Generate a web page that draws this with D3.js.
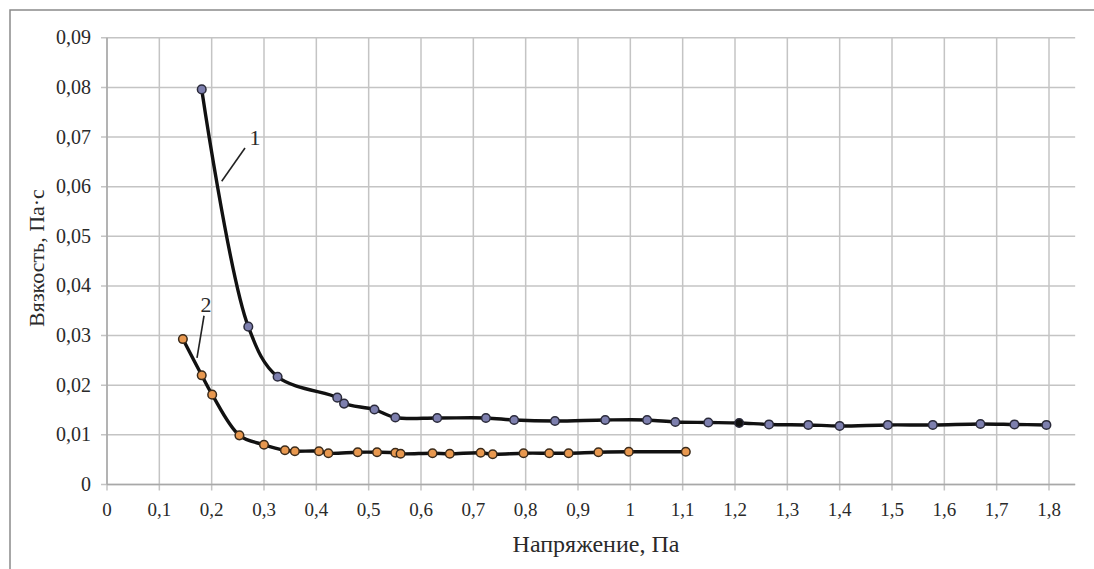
<!DOCTYPE html>
<html><head><meta charset="utf-8">
<script src="https://cdn.jsdelivr.net/npm/d3@7"></script>
<style>html,body{margin:0;padding:0;background:#fff;}svg{display:block;}</style>
</head><body>
<svg id="c" width="1094" height="569"></svg>
<script>
// Series 1
const s1x = [0.181,0.270,0.326,0.440,0.453,0.511,0.551,0.631,0.724,0.778,0.856,0.952,1.032,1.086,1.149,1.208,1.265,1.340,1.400,1.492,1.578,1.669,1.734,1.795];
const s1y = [0.0796,0.0318,0.0217,0.0175,0.0163,0.0151,0.0135,0.0134,0.0134,0.0130,0.0128,0.0130,0.0130,0.0126,0.0125,0.0124,0.0121,0.0120,0.0118,0.0120,0.0120,0.0122,0.0121,0.0120];
// Series 2
const s2x = [0.145,0.181,0.201,0.253,0.300,0.340,0.359,0.405,0.423,0.479,0.516,0.551,0.561,0.622,0.655,0.714,0.737,0.796,0.845,0.882,0.939,0.997,1.106];
const s2y = [0.0293,0.0220,0.0181,0.0099,0.0080,0.0069,0.0067,0.0067,0.0063,0.0065,0.0065,0.0064,0.0062,0.0063,0.0062,0.0064,0.0061,0.0063,0.0063,0.0063,0.0065,0.0066,0.0066];
const highlightX = [1.208];
const xTicks = d3.range(0, 19).map(i => i / 10);
const yTicks = d3.range(0, 10).map(i => i / 100);
const xTitle = "Напряжение, Па";
const yTitle = "Вязкость, Па·с";
const labels = [{t:"1", x:0.2828, y:0.0684, lx1:0.2637, ly1:0.0678, lx2:0.2192, ly2:0.0611},
                {t:"2", x:0.1892, y:0.0348, lx1:0.1854, ly1:0.0340, lx2:0.1720, ly2:0.0255}];

const svg = d3.select("#c");
const serif = "'Liberation Serif','DejaVu Serif',serif";
const x = d3.scaleLinear().domain([0, 1.8]).range([107, 1049]);
const y = d3.scaleLinear().domain([0, 0.09]).range([484.5, 37.8]);
const xMax = 1.85;
const fmt = v => String(+v.toFixed(2)).replace(".", ",");

// frame
svg.append("path").attr("d","M10,569 L10,10 L1094,10").attr("fill","none").attr("stroke","#8a8a8a").attr("stroke-width",1.5);

// grid
const g = svg.append("g");
g.selectAll(".hg").data(yTicks).enter().append("line")
  .attr("x1", x(0)-6).attr("x2", x(xMax)).attr("y1", d=>y(d)).attr("y2", d=>y(d))
  .attr("stroke","#c4c4c4").attr("stroke-width",1.5);
g.selectAll(".vg").data(xTicks).enter().append("line")
  .attr("x1", d=>x(d)).attr("x2", d=>x(d)).attr("y1", y(0.09)).attr("y2", y(0)+6)
  .attr("stroke","#c4c4c4").attr("stroke-width",1.5);
// axes lines
g.append("line").attr("x1",x(0)).attr("x2",x(xMax)).attr("y1",y(0)).attr("y2",y(0)).attr("stroke","#a8a8a8").attr("stroke-width",1.5);
g.append("line").attr("x1",x(0)).attr("x2",x(0)).attr("y1",y(0.09)).attr("y2",y(0)).attr("stroke","#a8a8a8").attr("stroke-width",1.5);

// tick labels
svg.selectAll(".xl").data(xTicks).enter().append("text")
  .attr("x", d=>x(d)).attr("y", 516).attr("text-anchor","middle")
  .attr("font-family", serif).attr("font-size",19).attr("fill","#2a2a2a")
  .text(fmt);
svg.selectAll(".yl").data(yTicks).enter().append("text")
  .attr("x", 91).attr("y", d=>y(d)+6.5).attr("text-anchor","end")
  .attr("font-family", serif).attr("font-size",20).attr("fill","#2a2a2a")
  .text(fmt);

// titles
svg.append("text").attr("x",596).attr("y",552).attr("text-anchor","middle")
  .attr("font-family",serif).attr("font-size",24).attr("fill","#2a2a2a").text(xTitle);
svg.append("text").attr("transform","translate(44,258) rotate(-90)").attr("text-anchor","middle")
  .attr("font-family",serif).attr("font-size",22).attr("fill","#2a2a2a").text(yTitle);

// lines
const line = d3.line().x(d=>x(d[0])).y(d=>y(d[1])).curve(d3.curveCatmullRom.alpha(0.5));
const d1 = s1x.map((v,i)=>[v, s1y[i]]);
const d2 = s2x.map((v,i)=>[v, s2y[i]]);
svg.append("path").attr("d", line(d1)).attr("fill","none").attr("stroke","#111").attr("stroke-width",3.4);
svg.append("path").attr("d", line(d2)).attr("fill","none").attr("stroke","#111").attr("stroke-width",3.4);

// markers
svg.selectAll(".m1").data(d1).enter().append("circle")
  .attr("cx", d=>x(d[0])).attr("cy", d=>y(d[1])).attr("r",4.3)
  .attr("fill", d=> highlightX.includes(d[0]) ? "#111" : "#7d7fae")
  .attr("stroke","#2a2a3a").attr("stroke-width",1.5);
svg.selectAll(".m2").data(d2).enter().append("circle")
  .attr("cx", d=>x(d[0])).attr("cy", d=>y(d[1])).attr("r",4.3)
  .attr("fill","#e8984f").attr("stroke","#3a2a1a").attr("stroke-width",1.5);

// annotations
labels.forEach(l => {
  svg.append("line").attr("x1",x(l.lx1)).attr("y1",y(l.ly1)).attr("x2",x(l.lx2)).attr("y2",y(l.ly2))
    .attr("stroke","#222").attr("stroke-width",1.6);
  svg.append("text").attr("x",x(l.x)).attr("y",y(l.y)).attr("text-anchor","middle")
    .attr("font-family",serif).attr("font-size",22).attr("fill","#2a2a2a").text(l.t);
});
</script>
</body></html>
